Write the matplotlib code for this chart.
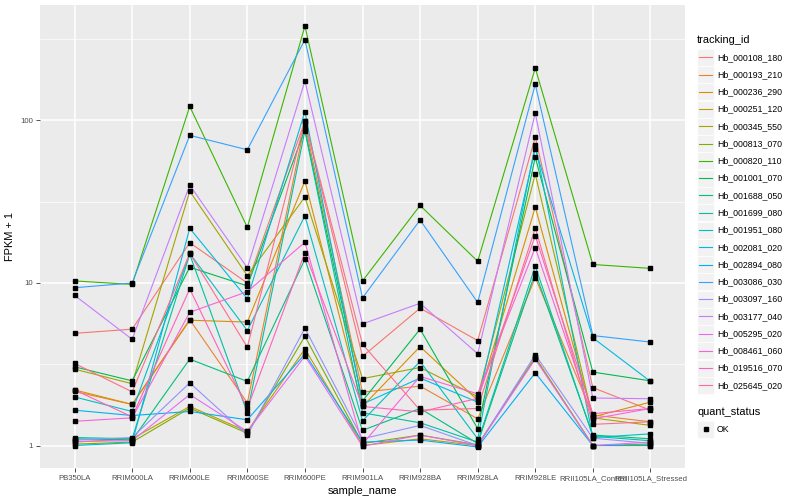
import numpy as np
import matplotlib
matplotlib.use("Agg")
import matplotlib.pyplot as plt
from matplotlib.lines import Line2D
from matplotlib.patches import Rectangle

plt.rcParams['font.family'] = ['Liberation Sans', 'DejaVu Sans']

samples = ["PB350LA", "RRIM600LA", "RRIM600LE", "RRIM600SE", "RRIM600PE",
           "RRIM901LA", "RRIM928BA", "RRIM928LA", "RRIM928LE",
           "RRII105LA_Control", "RRII105LA_Stressed"]

tracking_ids = ["Hb_000108_180", "Hb_000193_210", "Hb_000236_290", "Hb_000251_120",
                "Hb_000345_550", "Hb_000813_070", "Hb_000820_110", "Hb_001001_070",
                "Hb_001688_050", "Hb_001699_080", "Hb_001951_080", "Hb_002081_020",
                "Hb_002894_080", "Hb_003086_030", "Hb_003097_160", "Hb_003177_040",
                "Hb_005295_020", "Hb_008461_060", "Hb_019516_070", "Hb_025645_020"]

# ggplot default hue palette, 20 levels
colors = ["#F8766D", "#EA8331", "#D89000", "#C09B00", "#A3A500", "#7CAE00",
          "#39B600", "#00BB4E", "#00BF7D", "#00C1A3", "#00BFC4", "#00BAE0",
          "#00B0F6", "#35A2FF", "#9590FF", "#C77CFF", "#E76BF3", "#FA62DB",
          "#FF62BC", "#FF6C91"]

# FPKM + 1 per sample (same order as samples)
hb_000108_180 = [4.9, 5.2, 17.7, 10.0, 99.0, 3.53, 7.0, 4.42, 79.0, 2.27, 1.65]
hb_000193_210 = [2.15, 1.79, 5.95, 1.83, 95.0, 2.13, 2.32, 1.46, 10.8, 1.54, 1.40]
hb_000236_290 = [2.2, 1.79, 5.9, 5.75, 42.4, 1.74, 4.06, 1.9, 29.3, 1.5, 1.85]
hb_000251_120 = [1.05, 1.1, 1.74, 1.22, 3.93, 1.0, 1.1, 1.0, 3.5, 1.0, 1.0]
hb_000345_550 = [2.95, 2.4, 36.7, 11.1, 33.8, 2.58, 3.02, 2.0, 46.8, 1.48, 1.33]
hb_000813_070 = [1.02, 1.05, 1.7, 1.19, 4.7, 1.03, 1.16, 1.01, 3.45, 1.0, 1.02]
hb_000820_110 = [10.3, 9.8, 122.0, 22.0, 381.0, 10.3, 30.0, 13.6, 210.0, 13.0, 12.3]
hb_001001_070 = [3.05, 2.5, 12.5, 9.6, 88.0, 1.88, 5.2, 1.27, 59.4, 2.83, 2.5]
hb_001688_050 = [1.1, 1.08, 3.4, 2.48, 14.0, 1.24, 1.69, 1.03, 11.6, 1.16, 1.1]
hb_001699_080 = [1.12, 1.1, 15.0, 1.59, 86.5, 1.59, 1.38, 1.05, 12.7, 1.14, 1.07]
hb_001951_080 = [1.99, 1.62, 15.2, 5.1, 25.9, 1.42, 3.29, 1.1, 71.0, 1.12, 1.18]
hb_002081_020 = [1.0, 1.04, 21.7, 8.0, 113.5, 1.8, 2.6, 1.85, 67.0, 4.6, 2.48]
hb_002894_080 = [1.65, 1.53, 1.62, 1.44, 3.66, 1.05, 1.08, 0.98, 2.8, 1.0, 1.0]
hb_003086_030 = [9.35, 10.0, 81.0, 66.0, 314.0, 8.1, 24.4, 7.6, 167.0, 4.75, 4.33]
hb_003097_160 = [1.08, 1.12, 2.43, 1.16, 5.27, 1.1, 1.33, 1.0, 3.62, 1.11, 1.03]
hb_003177_040 = [8.4, 4.5, 40.0, 12.4, 175.0, 5.6, 7.5, 3.67, 111.0, 1.96, 1.94]
hb_005295_020 = [1.06, 1.07, 2.06, 1.22, 3.55, 0.99, 1.16, 1.0, 3.4, 1.0, 1.05]
hb_008461_060 = [1.41, 1.48, 6.6, 8.85, 17.8, 1.02, 2.66, 2.08, 16.5, 1.46, 1.69]
hb_019516_070 = [2.2, 1.5, 9.2, 1.69, 15.4, 1.74, 1.61, 1.95, 19.5, 1.57, 1.69]
hb_025645_020 = [3.2, 2.14, 15.2, 4.03, 99.0, 4.2, 1.65, 1.69, 21.8, 1.35, 1.4]

series = [hb_000108_180, hb_000193_210, hb_000236_290, hb_000251_120, hb_000345_550,
          hb_000813_070, hb_000820_110, hb_001001_070, hb_001688_050, hb_001699_080,
          hb_001951_080, hb_002081_020, hb_002894_080, hb_003086_030, hb_003097_160,
          hb_003177_040, hb_005295_020, hb_008461_060, hb_019516_070, hb_025645_020]

W, H = 800, 500
fig = plt.figure(figsize=(W / 100, H / 100), dpi=100)
fig.patch.set_facecolor("white")

# panel position in pixels: left 40, right 685, top 5, bottom 468
ax = fig.add_axes([40 / W, 1 - 468 / H, (685 - 40) / W, (468 - 5) / H])
ax.set_facecolor("#EBEBEB")

x = np.arange(len(samples))
for vals, col in zip(series, colors):
    ax.plot(x, vals, color=col, lw=0.8, zorder=3)
for vals in series:
    ax.plot(x, vals, ls="none", marker="s", ms=2.2, color="black", zorder=4)

# log scale with ggplot style expansion
ax.set_yscale("log")
allv = np.log10(np.concatenate([np.array(s) for s in series]))
lo, hi = allv.min(), allv.max()
pad = (hi - lo) * 0.05
ax.set_ylim(10 ** (lo - pad), 10 ** (hi + pad))
ax.set_xlim(-0.6, len(samples) - 0.4)

ax.set_yticks([1, 10, 100])
ax.set_yticklabels(["1", "10", "100"])
ax.set_yticks([10 ** 0.5, 10 ** 1.5, 10 ** 2.5], minor=True)
ax.yaxis.set_minor_formatter(plt.NullFormatter())
ax.set_xticks(x)
ax.set_xticklabels(samples)

ax.grid(True, which="major", color="white", lw=1.1, zorder=0)
ax.grid(True, which="minor", axis="y", color="white", lw=0.5, zorder=0)
ax.set_axisbelow(True)
for s in ax.spines.values():
    s.set_visible(False)

ax.tick_params(axis="both", which="major", length=3, width=0.6, color="#333333",
               labelsize=5.6, labelcolor="#4D4D4D", pad=2)
ax.tick_params(axis="y", which="minor", length=0)

ax.set_xlabel("sample_name", fontsize=7.9, labelpad=3)
ax.set_ylabel("FPKM + 1", fontsize=7.9, labelpad=4)

# legend: tracking_id
fig.text(697 / W, 1 - 40 / H, "tracking_id", fontsize=7.9, va="center", ha="left")
row0, step = 57.3, 17.27
for i, (name, col) in enumerate(zip(tracking_ids, colors)):
    yc = row0 + i * step
    fig.add_artist(Rectangle((697 / W, 1 - (yc + 8.5) / H), 17 / W, 17 / H,
                             transform=fig.transFigure, facecolor="#F2F2F2",
                             edgecolor="white", lw=0.5))
    fig.add_artist(Line2D([699 / W, 712 / W], [1 - yc / H, 1 - yc / H],
                          transform=fig.transFigure, color=col, lw=0.8))
    fig.text(717 / W, 1 - yc / H, name, fontsize=6.3, va="center", ha="left")

# legend: quant_status
fig.text(697 / W, 1 - 412 / H, "quant_status", fontsize=7.9, va="center", ha="left")
yc = 429.3
fig.add_artist(Rectangle((697 / W, 1 - (yc + 8.5) / H), 17 / W, 17 / H,
                         transform=fig.transFigure, facecolor="#F2F2F2",
                         edgecolor="white", lw=0.5))
fig.add_artist(Line2D([705.5 / W], [1 - yc / H], transform=fig.transFigure,
                      marker="s", ms=2.2, color="black", ls="none"))
fig.text(717 / W, 1 - yc / H, "OK", fontsize=6.3, va="center", ha="left")

fig.savefig("out.png", dpi=100)
